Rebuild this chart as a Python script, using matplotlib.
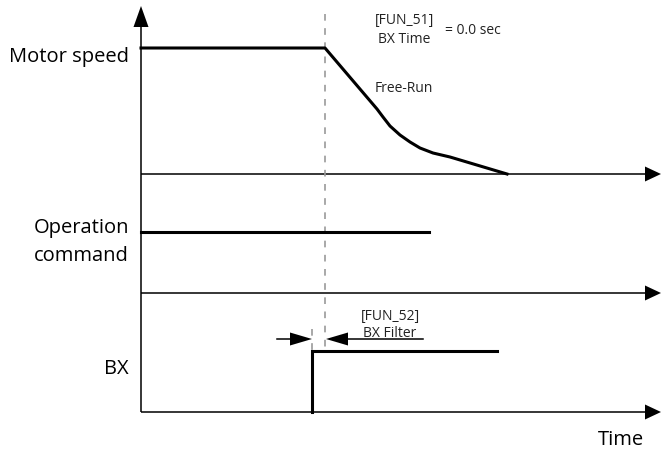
import matplotlib
matplotlib.use("Agg")
import matplotlib.pyplot as plt
from matplotlib.patches import Polygon

# ---- diagram data (pixel-like units, y grows downward) ----
speed_x = [141, 325, 377, 383, 390, 400, 410, 420, 433, 450, 507]
speed_y = [49, 49, 110, 118, 127, 136, 143, 149, 154, 158, 175]
op_x = [141, 429]
op_y = [233, 233]
bx_x = [312, 312, 497]
bx_y = [413, 352, 352]
baselines_y = [175, 294, 413]
axis_x = 141
axis_top = 7
axis_end_x = 661
event_x = 325
bx_start_x = 312

labels = ["Motor speed", "Operation\ncommand", "BX"]
label_y = [57, 242, 369]

fig = plt.figure(figsize=(6.61, 4.52), dpi=100)
ax = fig.add_axes([0, 0, 1, 1])
ax.set_xlim(0, 661)
ax.set_ylim(452, 0)
ax.axis("off")

FONT = "Open Sans"
lw_axis = 1.1
lw_sig = 2.2

# vertical axis with arrow
ax.plot([axis_x, axis_x], [baselines_y[-1], axis_top + 18], color="black", lw=lw_axis, solid_capstyle="butt")
ax.add_patch(Polygon([[axis_x, axis_top], [axis_x - 7.5, axis_top + 21], [axis_x + 7.5, axis_top + 21]],
                     closed=True, color="black", lw=0))

# horizontal baselines with arrows
for by in baselines_y:
    ax.plot([axis_x, axis_end_x - 14], [by, by], color="black", lw=lw_axis, solid_capstyle="butt")
    ax.add_patch(Polygon([[axis_end_x, by], [axis_end_x - 16, by - 7.5], [axis_end_x - 16, by + 7.5]],
                         closed=True, color="black", lw=0))

# dashed guide lines
ax.plot([event_x, event_x], [15, 352], color="#999999", lw=1.2, ls=(0, (4, 4.5)))
ax.plot([bx_start_x, bx_start_x], [330, 352], color="#999999", lw=1.2, ls=(0, (4, 4.5)))

# signals
ax.plot(speed_x, speed_y, color="black", lw=lw_sig, solid_joinstyle="round")
ax.plot(op_x, op_y, color="black", lw=lw_sig)
ax.plot(bx_x, bx_y, color="black", lw=lw_sig, solid_joinstyle="miter")

# BX filter dimension arrows
ay = 340
ax.plot([277, 300], [ay, ay], color="black", lw=1.1)
ax.add_patch(Polygon([[bx_start_x, ay], [bx_start_x - 22, ay - 6.5], [bx_start_x - 22, ay + 6.5]],
                     closed=True, color="black", lw=0))
ax.plot([340, 423], [ay, ay], color="black", lw=1.1)
ax.add_patch(Polygon([[event_x + 1, ay], [event_x + 23, ay - 6.5], [event_x + 23, ay + 6.5]],
                     closed=True, color="black", lw=0))

# labels
for lab, ly in zip(labels, label_y):
    ax.text(129, ly, lab, ha="right", va="center", fontsize=14.5, family=FONT,
            linespacing=1.5)
ax.text(644, 440, "Time", ha="right", va="center", fontsize=14.5, family=FONT)

# small annotations
small = 10
ax.text(404, 30, "[FUN_51]\nBX Time", ha="center", va="center", fontsize=small, family=FONT,
        linespacing=1.3, color="#222222")
ax.text(445, 31, "= 0.0 sec", ha="left", va="center", fontsize=small, family=FONT, color="#222222")
ax.text(404, 88, "Free-Run", ha="center", va="center", fontsize=small, family=FONT, color="#222222")
ax.text(390, 325, "[FUN_52]\nBX Filter", ha="center", va="center", fontsize=small, family=FONT,
        linespacing=1.15, color="#222222")

fig.savefig("out.png", dpi=100)
